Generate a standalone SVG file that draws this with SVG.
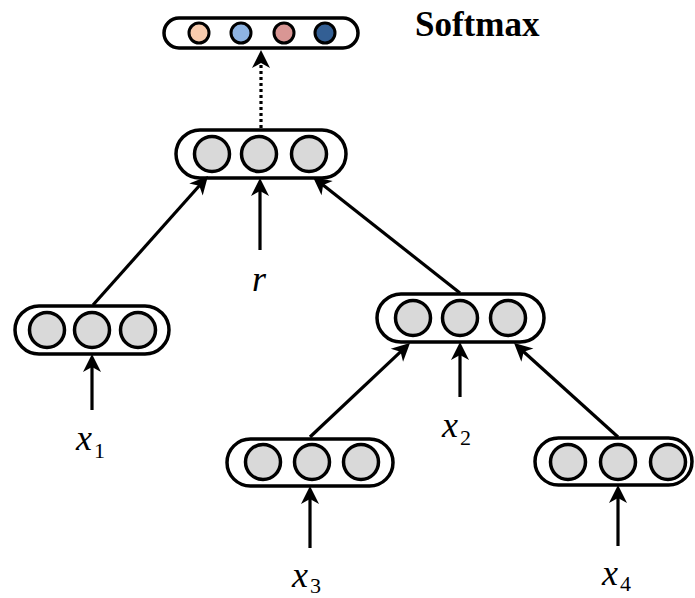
<svg xmlns="http://www.w3.org/2000/svg" width="695" height="598" viewBox="0 0 695 598">
<style>
.cap{fill:#fff;stroke:#000;stroke-width:3.5}
.c{fill:#d9d9d9;stroke:#000;stroke-width:3.5}
.cs{stroke:#000;stroke-width:3}
.ln{stroke:#000;stroke-width:3.2;fill:none}
.math{font-family:"Liberation Serif","Times New Roman",serif;font-style:italic;font-size:36px;fill:#000}
.sub{font-family:"Liberation Serif","Times New Roman",serif;font-style:normal;font-size:22px}
.title{font-family:"Liberation Serif","Times New Roman",serif;font-weight:bold;font-size:35px;fill:#000}
</style>
<defs>
<marker id="ah" viewBox="-20 -12 28 24" markerWidth="28" markerHeight="24" refX="0" refY="0" orient="auto" markerUnits="userSpaceOnUse">
<path d="M-14,-9 L4,0 L-14,9 L-9,0 z" fill="#000"/>
</marker>
</defs>
<rect width="695" height="598" fill="#fff"/>

<g id="softmax">
<rect class="cap" x="164" y="18" width="194" height="30" rx="15"/>
<circle class="cs" cx="199" cy="33" r="10" fill="#F8CBAD"/>
<circle class="cs" cx="241" cy="33" r="10" fill="#8EB4E3"/>
<circle class="cs" cx="284" cy="33" r="10" fill="#D99694"/>
<circle class="cs" cx="325" cy="33" r="10" fill="#335F94"/>
<text class="title" x="415" y="36">Softmax</text>
</g>

<g id="root">
<rect class="cap" x="176" y="130" width="170" height="48" rx="24"/>
<circle class="c" cx="212" cy="154" r="17.5"/>
<circle class="c" cx="259" cy="154" r="17.5"/>
<circle class="c" cx="309" cy="154" r="17.5"/>
</g>

<g id="left">
<rect class="cap" x="15" y="306" width="154" height="48" rx="24"/>
<circle class="c" cx="47" cy="330" r="17.5"/>
<circle class="c" cx="92" cy="330" r="17.5"/>
<circle class="c" cx="138" cy="330" r="17.5"/>
</g>

<g id="right">
<rect class="cap" x="377" y="294" width="167" height="48" rx="24"/>
<circle class="c" cx="413" cy="318" r="17.5"/>
<circle class="c" cx="460" cy="318" r="17.5"/>
<circle class="c" cx="508" cy="318" r="17.5"/>
</g>

<g id="b3">
<rect class="cap" x="227" y="439" width="166" height="47" rx="23.5"/>
<circle class="c" cx="263" cy="462" r="17.5"/>
<circle class="c" cx="312" cy="462" r="17.5"/>
<circle class="c" cx="361" cy="462" r="17.5"/>
</g>

<g id="b4">
<rect class="cap" x="535" y="438" width="157" height="47" rx="23.5"/>
<circle class="c" cx="568" cy="462" r="17.5"/>
<circle class="c" cx="618" cy="462" r="17.5"/>
<circle class="c" cx="668" cy="462" r="17.5"/>
</g>

<g id="connectors">
<line class="ln" x1="261" y1="128" x2="261" y2="54" stroke-dasharray="3,3" marker-end="url(#ah)"/>
<line class="ln" x1="260" y1="250" x2="260" y2="182" marker-end="url(#ah)"/>
<line class="ln" x1="92" y1="410" x2="92" y2="358" marker-end="url(#ah)"/>
<line class="ln" x1="460" y1="397" x2="460" y2="346" marker-end="url(#ah)"/>
<line class="ln" x1="310" y1="548" x2="310" y2="490" marker-end="url(#ah)"/>
<line class="ln" x1="618" y1="546" x2="618" y2="489" marker-end="url(#ah)"/>
<line class="ln" x1="93" y1="305" x2="205.3" y2="179" marker-end="url(#ah)"/>
<line class="ln" x1="460" y1="293" x2="316.1" y2="179.5" marker-end="url(#ah)"/>
<line class="ln" x1="310" y1="437" x2="407.1" y2="345.7" marker-end="url(#ah)"/>
<line class="ln" x1="618" y1="437" x2="517" y2="345.7" marker-end="url(#ah)"/>
</g>

<g id="labels">
<text class="math" x="252" y="291">r</text>
<text class="math" x="76" y="450">x<tspan class="sub" dx="2" dy="8">1</tspan></text>
<text class="math" x="442" y="437">x<tspan class="sub" dx="2" dy="8">2</tspan></text>
<text class="math" x="292" y="587">x<tspan class="sub" dx="2" dy="6">3</tspan></text>
<text class="math" x="602" y="585">x<tspan class="sub" dx="2" dy="6">4</tspan></text>
</g>
</svg>
